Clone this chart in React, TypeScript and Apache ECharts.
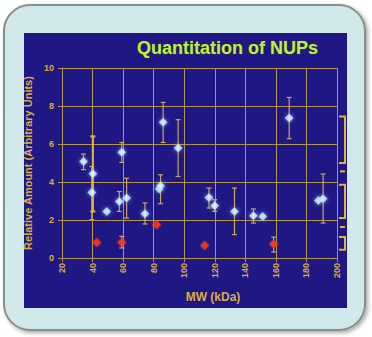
import React, { useEffect, useRef } from "react";
import * as echarts from "echarts";

// Blue NUPs: [MW, amount]
const blueMW = [34.1, 39.5, 40.2, 49.3, 57.5, 59.1, 62.3, 74.3, 83.6, 84.5, 86.2, 96.0, 116.2, 119.9, 132.9, 145.3, 151.4, 168.7, 187.8, 190.9];
const blueAmount = [5.08, 3.45, 4.44, 2.45, 2.98, 5.56, 3.16, 2.33, 3.63, 3.8, 7.14, 5.79, 3.19, 2.75, 2.45, 2.23, 2.19, 7.37, 3.02, 3.12];
// Red points
const redMW = [42.8, 59.1, 81.9, 113.4, 158.5];
const redAmount = [0.82, 0.82, 1.75, 0.66, 0.74];
// Error bars: [MW, low, high]
const errMW = [34.1, 39.5, 57.5, 59.1, 62.3, 74.3, 84.5, 86.2, 96.0, 116.2, 119.9, 132.9, 145.3, 168.7, 190.9, 59.1, 158.5];
const errLow = [4.65, 2.02, 2.45, 5.03, 2.1, 1.79, 2.86, 6.08, 4.29, 2.63, 2.45, 1.23, 1.84, 6.28, 1.84, 0.53, 0.32];
const errHigh = [5.47, 4.82, 3.5, 6.08, 4.2, 2.9, 4.38, 8.19, 7.28, 3.68, 3.07, 3.68, 2.58, 8.45, 4.42, 1.14, 1.1];
// Highlighted (thick yellow) error bar
const hiErr = [40.2, 2.45, 6.4];
// Right-side brackets [low, high]; ticks at single values
const bracketLow = [5.0, 2.1, 0.44];
const bracketHigh = [7.45, 3.86, 1.1];
const bracketTicks = [4.56, 1.63];

const xTicks = [20, 40, 60, 80, 100, 120, 140, 160, 180, 200];
const yTicks = [0, 2, 4, 6, 8, 10];

const GOLD = "#d9ad45";
const GRID = "#b39656";

export default function App() {
  const ref = useRef<HTMLDivElement>(null);
  useEffect(() => {
    if (!ref.current) return;
    const chart = echarts.init(ref.current, null, { renderer: "svg" });
    const errData = errMW.map((x, i) => [x, errLow[i], errHigh[i]]);
    const errRender = (lw: number, color: string, cap: number) => (params: any, api: any) => {
      const x = api.value(0);
      const lo = api.coord([x, api.value(1)]);
      const hi = api.coord([x, api.value(2)]);
      const st = { stroke: color, lineWidth: lw };
      return {
        type: "group",
        children: [
          { type: "line", shape: { x1: lo[0], y1: lo[1], x2: hi[0], y2: hi[1] }, style: st },
          { type: "line", shape: { x1: lo[0] - cap, y1: lo[1], x2: lo[0] + cap, y2: lo[1] }, style: st },
          { type: "line", shape: { x1: hi[0] - cap, y1: hi[1], x2: hi[0] + cap, y2: hi[1] }, style: st },
        ],
      };
    };
    const blueData = blueMW.map((x, i) => [x, blueAmount[i]]);
    const redData = redMW.map((x, i) => [x, redAmount[i]]);
    const bracketData = bracketLow.map((l, i) => [200, l, bracketHigh[i]]);
    const tickData = bracketTicks.map((v) => [200, v]);

    chart.setOption({
      animation: false,
      backgroundColor: "transparent",
      textStyle: { fontFamily: "Liberation Sans, Arial, sans-serif" },
      graphic: [
        {
          type: "rect",
          shape: { x: 4, y: 5, width: 361, height: 325, r: 26 },
          style: { fill: "#d2e9ec", stroke: "#8c8c8c", lineWidth: 2, shadowBlur: 4, shadowOffsetX: 2, shadowOffsetY: 2, shadowColor: "rgba(0,0,0,0.35)" },
          z: -10,
        },
        {
          type: "rect",
          shape: { x: 24, y: 33, width: 323, height: 275 },
          style: { fill: "#1f1784" },
          z: -9,
        },
      ],
      title: {
        text: "Quantitation of NUPs",
        left: 137,
        top: 39,
        padding: 0,
        textStyle: { color: "#bff03a", fontSize: 18, fontWeight: "bold", fontFamily: "Liberation Sans, Arial, sans-serif", textBorderColor: "#3b4d1a", textBorderWidth: 0.6 },
      },
      grid: { left: 62, right: 35, top: 68, bottom: 79 },
      xAxis: {
        type: "value",
        min: 20,
        max: 200,
        interval: 20,
        name: "MW (kDa)",
        nameLocation: "middle",
        nameGap: 33,
        nameTextStyle: { color: GOLD, fontSize: 12, fontWeight: "bold", padding: [0, 0, 0, 27] },
        axisLine: { show: true, lineStyle: { color: GRID, width: 1 } },
        axisTick: { show: true, length: 4, lineStyle: { color: GRID } },
        splitLine: { show: true, lineStyle: { color: GRID, width: 1 } },
        axisLabel: {
          rotate: 90,
          margin: 5,
          color: GOLD,
          fontSize: 9,
          fontWeight: "bold",
          formatter: (v: number) => (xTicks.includes(v) ? String(v) : ""),
        },
      },
      yAxis: {
        type: "value",
        min: 0,
        max: 10,
        interval: 2,
        name: "Relative Amount (Arbitrary Units)",
        nameLocation: "middle",
        nameGap: 24,
        nameTextStyle: { color: GOLD, fontSize: 11, fontWeight: "bold" },
        axisLine: { show: true, lineStyle: { color: GRID, width: 1 } },
        axisTick: { show: true, length: 4, lineStyle: { color: GRID } },
        splitLine: { show: true, lineStyle: { color: GRID, width: 1 } },
        axisLabel: {
          margin: 8,
          color: GOLD,
          fontSize: 9,
          fontWeight: "bold",
          formatter: (v: number) => (yTicks.includes(v) ? String(v) : ""),
        },
      },
      series: [
        {
          type: "custom",
          data: errData,
          renderItem: errRender(1.2, "#c9a45e", 2.5),
          encode: { x: 0, y: [1, 2] },
          z: 2,
        },
        {
          type: "custom",
          data: [hiErr],
          renderItem: errRender(2.2, "#e3b22c", 2.5),
          encode: { x: 0, y: [1, 2] },
          z: 2,
        },
        {
          type: "custom",
          data: bracketData,
          clip: false,
          renderItem: (params: any, api: any) => {
            const lo = api.coord([api.value(0), api.value(1)]);
            const hi = api.coord([api.value(0), api.value(2)]);
            const x0 = lo[0] + 2;
            const x1 = lo[0] + 8;
            return {
              type: "polyline",
              shape: { points: [[x0, hi[1]], [x1, hi[1]], [x1, lo[1]], [x0, lo[1]]] },
              style: { stroke: "#e0b341", lineWidth: 2, fill: "none" },
            };
          },
          encode: { x: 0, y: [1, 2] },
          z: 2,
        },
        {
          type: "custom",
          data: tickData,
          clip: false,
          renderItem: (params: any, api: any) => {
            const p = api.coord([api.value(0), api.value(1)]);
            return {
              type: "line",
              shape: { x1: p[0] + 3, y1: p[1], x2: p[0] + 8, y2: p[1] },
              style: { stroke: "#e0b341", lineWidth: 2 },
            };
          },
          encode: { x: 0, y: 1 },
          z: 2,
        },
        {
          type: "scatter",
          data: blueData,
          symbol: "diamond",
          symbolSize: 9,
          itemStyle: {
            color: new echarts.graphic.RadialGradient(0.5, 0.5, 0.6, [
              { offset: 0, color: "#ffffff" },
              { offset: 0.45, color: "#d8f2ff" },
              { offset: 1, color: "#6fc2f5" },
            ]),
            shadowBlur: 4,
            shadowColor: "rgba(150,215,255,0.8)",
          },
          z: 5,
        },
        {
          type: "scatter",
          data: redData,
          symbol: "diamond",
          symbolSize: 9,
          itemStyle: { color: "#ff3414", shadowBlur: 2, shadowColor: "rgba(255,80,40,0.7)" },
          z: 5,
        },
      ],
    });
    return () => chart.dispose();
  }, []);
  return (
    <div
      ref={ref}
      style={{ position: "fixed", left: 0, top: 0, width: 372, height: 337, background: "#ffffff" }}
    />
  );
}
